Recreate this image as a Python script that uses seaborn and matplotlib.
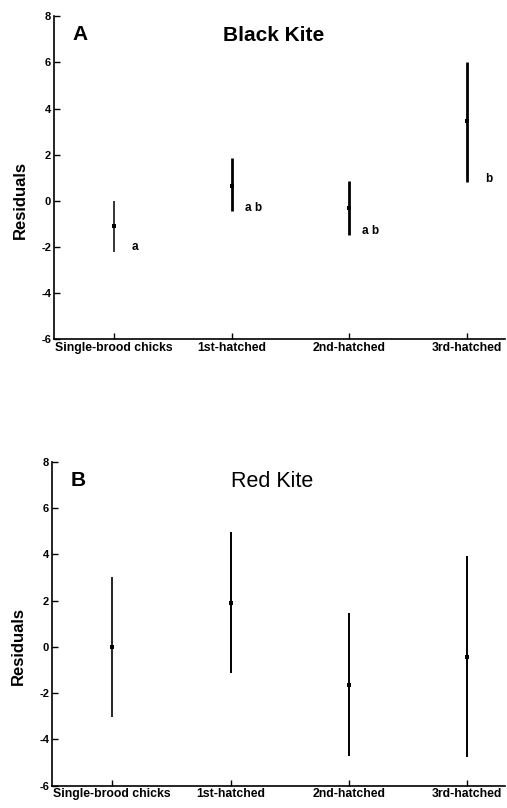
import matplotlib
matplotlib.use("Agg")
import matplotlib.pyplot as plt
import seaborn as sns
import numpy as np
import pandas as pd

categories = ["Single-brood chicks", "1st-hatched", "2nd-hatched", "3rd-hatched"]

# Panel A: Black Kite
black_mean = [-1.1, 0.65, -0.3, 3.45]
black_low = [-2.2, -0.45, -1.5, 0.8]
black_high = [0.0, 1.85, 0.87, 6.0]
black_letters = ["a", "a b", "a b", "b"]
black_letter_y = [-2.0, -0.3, -1.3, 0.95]

# Panel B: Red Kite
red_mean = [0.0, 1.9, -1.65, -0.45]
red_low = [-3.05, -1.15, -4.72, -4.78]
red_high = [3.02, 4.95, 1.45, 3.92]

yticks = [8, 6, 4, 2, 0, -2, -4, -6]

sns.set_style("ticks", rc={"text.color": "black", "axes.labelcolor": "black",
                           "xtick.color": "black", "ytick.color": "black",
                           "axes.edgecolor": "black"})
plt.rcParams['font.family'] = ['Liberation Sans', 'DejaVu Sans']

fig = plt.figure(figsize=(5.07, 8.08), dpi=100)
axA = fig.add_axes([0.1065, 0.580, 0.889, 0.400])
axB = fig.add_axes([0.1026, 0.0276, 0.893, 0.401])


def draw(ax, means, lows, highs, lws, title, letter, title_weight, title_size):
    df = pd.DataFrame({"pos": np.arange(len(categories)), "cat": categories,
                       "mean": means, "low": lows, "high": highs})
    for (_, r), lw in zip(df.iterrows(), lws):
        ax.vlines(r["pos"], r["low"], r["high"], color="black", lw=lw)
    sns.scatterplot(data=df, x="pos", y="mean", ax=ax, color="black",
                    s=8, marker="s", edgecolor="black", linewidth=0, zorder=3)
    ax.set_xlim(-0.51, 3.32)
    ax.set_ylim(-6, 8)
    ax.set_yticks(yticks)
    ax.set_yticklabels([str(t) for t in yticks], fontsize=8, fontweight="bold")
    ax.set_xticks(df["pos"])
    ax.set_xticklabels(categories, fontsize=8.8, fontweight="bold")
    ax.tick_params(axis="both", direction="in", length=4, width=1, pad=2, colors="black")
    ax.set_xlabel("")
    ax.set_ylabel("Residuals", fontsize=12, fontweight="bold")
    ax.yaxis.set_label_coords(-0.058, 0.43)
    for s in ["top", "right"]:
        ax.spines[s].set_visible(False)
    for s in ["left", "bottom"]:
        ax.spines[s].set_linewidth(1.2)
        ax.spines[s].set_color("black")
    ax.text(1.356, 7.15, title, fontsize=title_size, fontweight=title_weight,
            ha="center", va="center")
    ax.text(-0.35, 7.2, letter, fontsize=15, fontweight="bold", ha="left", va="center")


draw(axA, black_mean, black_low, black_high, [1.1, 2.0, 2.0, 2.0], "Black Kite", "A", "bold", 15)
draw(axB, red_mean, red_low, red_high, [1.2, 1.4, 1.4, 1.4], "Red Kite", "B", "normal", 15.5)

for i, (lab, y) in enumerate(zip(black_letters, black_letter_y)):
    off = 0.15 if len(lab) == 1 else 0.11
    axA.text(i + off, y, lab, fontsize=8.5, fontweight="bold", ha="left", va="center")

fig.savefig("out.png", dpi=100)
